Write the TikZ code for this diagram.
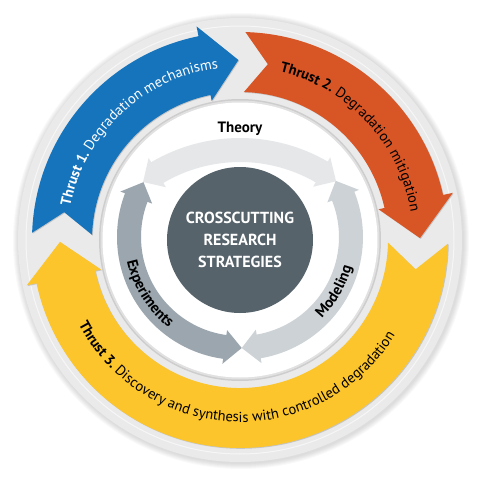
\documentclass[tikz,border=0pt]{standalone}
\usepackage{fontspec}
\setmainfont{PT Sans}
\usetikzlibrary{decorations.text,shadows}
\definecolor{tblue}{RGB}{22,116,188}
\definecolor{torange}{RGB}{216,85,37}
\definecolor{tyellow}{RGB}{252,197,44}
\definecolor{discgray}{RGB}{234,234,234}
\definecolor{rimgray}{RGB}{205,205,205}
\definecolor{darkcore}{RGB}{86,99,106}
\definecolor{theorygray}{RGB}{229,231,233}
\definecolor{modelgray}{RGB}{205,210,214}
\definecolor{expgray}{RGB}{155,166,174}
\newcommand{\thrfont}{\fontsize{14.5}{17}\selectfont}
\newcommand{\labfont}{\fontsize{15}{17}\selectfont\bfseries}
% clockwise outer arrow: #1 tail, #2 head base, #3 tip, #4 notch apex, #5 style
\newcommand{\cwarrow}[5]{%
  \fill[#5] (#1:208) arc[start angle=#1, end angle=#2, radius=208] -- (#2:218) -- (#3:180)
    -- (#2:142) -- (#2:148) arc[start angle=#2, end angle=#1, radius=148] -- (#4:178) -- cycle;}
% double headed inner arrow: #1 cx, #2 cy, #3 r, #4 tip1, #5 tip2, #6 head deg, #7 style
\newcommand{\dblarrow}[7]{%
  \begin{scope}[shift={(#1,#2)}]
  \fill[#7] ({#4+#6}:{#3+12}) arc[start angle={#4+#6}, end angle={#5-#6}, radius={#3+12}]
    -- ({#5-#6}:{#3+17}) -- (#5:#3) -- ({#5-#6}:{#3-17}) -- ({#5-#6}:{#3-12})
    arc[start angle={#5-#6}, end angle={#4+#6}, radius={#3-12}]
    -- ({#4+#6}:{#3-17}) -- (#4:#3) -- ({#4+#6}:{#3+17}) -- cycle;
  \end{scope}}
\tikzset{
  arrowshadow/.style={drop shadow={shadow xshift=0.8pt, shadow yshift=-0.8pt, opacity=0.35}},
}
\begin{document}
\begin{tikzpicture}[x=1pt,y=1pt]
\useasboundingbox (-240,-240) rectangle (240,240);
% outer disc with soft shadow
\foreach \i in {1,...,6} {\fill[black,opacity=0.025] (1,-1) circle ({222+\i});}
\fill[discgray] (0,0) circle (222);
\draw[white,opacity=0.6,line width=1pt] (0,0) circle (214);
% inner white disc with rim
\fill[rimgray] (0,0) circle (141);
\fill[rimgray!60] (0,0) circle (139.5);
\fill[white] (0,0) circle (137.5);
% outer thrust arrows
\cwarrow{178}{101.5}{90.5}{171}{tblue,arrowshadow}
\cwarrow{88.5}{12.5}{0.6}{81}{torange,arrowshadow}
\cwarrow{-1}{-168}{-179.4}{-9.5}{tyellow,arrowshadow}
% inner arrows
\dblarrow{0}{-73}{163}{53.9}{126.5}{6}{theorygray}
\dblarrow{0}{3}{111}{-89.1}{30.4}{8.8}{modelgray}
\dblarrow{0}{3}{111}{150.4}{270.9}{8.8}{expgray}
% core
\node[circle, fill=darkcore, minimum size=146pt, inner sep=0pt] (core) at (0,0) {};
\node[align=center, text=white, font=\fontsize{16}{22}\selectfont\bfseries] (corelabel) at (0,0)
  {CROSSCUTTING\\RESEARCH\\STRATEGIES};
% inner labels
\node[font=\fontsize{15}{17}\selectfont\bfseries] (theory) at (0,111) {Theory};
\path[decorate, decoration={text along path, text align=center,
  text={|\labfont|Experiments}}] (0,3) ++(167:115.5) arc[start angle=167, end angle=257, radius=115.5];
\path[decorate, decoration={text along path, text align=center,
  text={|\labfont|Modeling}}] (0,3) ++(-75:115.5) arc[start angle=-75, end angle=15, radius=115.5];
% thrust labels
\path[decorate, decoration={text along path, text align=center, text color=white,
  text={|\thrfont\bfseries|Thrust 1.|\thrfont\mdseries| Degradation mechanisms}}]
  (178:173) arc[start angle=178, end angle=88, radius=173];
\path[decorate, decoration={text along path, text align=center,
  text={|\thrfont\bfseries|Thrust 2.|\thrfont\mdseries| Degradation mitigation}}]
  (88:173) arc[start angle=88, end angle=-2, radius=173];
\path[decorate, decoration={text along path, text align=center,
  text={|\thrfont\bfseries|Thrust 3.|\thrfont\mdseries| Discovery and synthesis with controlled degradation}}]
  (178:182) arc[start angle=178, end angle=358, radius=182];
\end{tikzpicture}
\end{document}
